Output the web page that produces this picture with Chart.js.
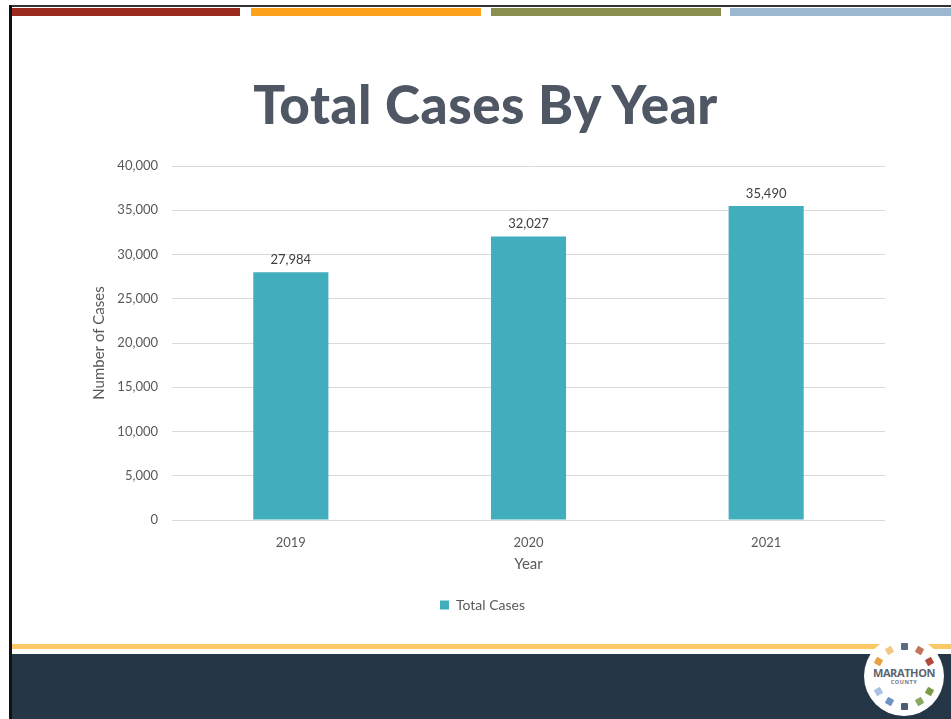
<!DOCTYPE html>
<html>
<head>
<meta charset="utf-8">
<script src="https://cdn.jsdelivr.net/npm/chart.js@4"></script>
<style>
  html, body { margin:0; padding:0; background:#fff; }
  body { width:951px; height:719px; position:relative; overflow:hidden; font-family: Lato, "Open Sans", sans-serif; }
  .abs { position:absolute; }
  #title { position:absolute; left:0; width:971px; top:72px; text-align:center; font-family: Lato, sans-serif; font-weight:900; font-size:53px; color:#4F5664; letter-spacing:0.5px; }
  #chartWrap { position:absolute; left:0; top:140px; width:951px; height:490px; }
  .logo { position:absolute; left:864px; top:636px; width:80px; height:80px; border-radius:50%; background:#fff; }
  .sq { position:absolute; width:7px; height:7px; border-radius:1px; }
  .logoText { position:absolute; left:0; width:80px; top:31px; text-align:center; font-family: "Open Sans", sans-serif; font-weight:700; font-size:11px; color:#5d6470; letter-spacing:-0.4px; line-height:11px; }
  .logoText2 { position:absolute; left:0; width:80px; top:43px; text-align:center; font-family: "Open Sans", sans-serif; font-weight:700; font-size:5.5px; color:#6d7480; letter-spacing:0.6px; line-height:6px; }
</style>
</head>
<body>
<div class="abs" style="left:9px; top:5px; width:942px; height:2px; background:#333;"></div>
<div class="abs" style="left:9px; top:5px; width:3px; height:714px; background:#111;"></div>
<div class="abs" style="left:12px; top:8px; width:228px; height:8px; background:#9A2B1E;"></div>
<div class="abs" style="left:251px; top:8px; width:230px; height:8px; background:#FCA31B;"></div>
<div class="abs" style="left:491px; top:8px; width:230px; height:8px; background:#8A8E4E;"></div>
<div class="abs" style="left:730px; top:8px; width:221px; height:8px; background:#9CB7D0;"></div>
<div id="title">Total Cases By Year</div>
<div id="chartWrap"><canvas id="c"></canvas></div>
<div class="abs" style="left:12px; top:644px; width:939px; height:5px; background:#FDC868;"></div>
<div class="abs" style="left:12px; top:654px; width:939px; height:65px; background:#253646;"></div>
<div class="logo" id="logo">
  <div class="logoText">MARATHON</div>
  <div class="logoText2">COUNTY</div>
</div>
<script>
// ---- data ----
const categories = ['2019', '2020', '2021'];
const totalCases = [27984, 32027, 35490];
const yTicks = [0, 5000, 10000, 15000, 20000, 25000, 30000, 35000, 40000];
const seriesName = 'Total Cases';
const xAxisTitle = 'Year';
const yAxisTitle = 'Number of Cases';

// logo squares (clock positions 0..11; 3 and 9 left empty for the text)
const logoColors = ['#5b6b82','#c4735c','#b5483c',null,'#7d9c4a','#8aa860','#4c5c72','#6f93c6','#a9c1e2',null,'#e6a23e','#f1c987'];
(function(){
  const logo = document.getElementById('logo');
  for (let i=0;i<logoColors.length;i++){
    if (!logoColors[i]) continue;
    const a = -Math.PI/2 + i*2*Math.PI/logoColors.length;
    const d = document.createElement('div');
    d.className='sq';
    d.style.background = logoColors[i];
    d.style.left = (40 + 30*Math.cos(a) - 3.5)+'px';
    d.style.top = (40 + 30*Math.sin(a) - 3.5)+'px';
    d.style.transform = 'rotate('+(a*180/Math.PI+90)+'deg)';
    logo.appendChild(d);
  }
})();

const labelPlugin = {
  id: 'barLabels',
  afterDatasetsDraw(chart) {
    const ctx = chart.ctx;
    ctx.save();
    ctx.font = '13px Lato, sans-serif';
    ctx.fillStyle = '#404040';
    ctx.textAlign = 'center';
    ctx.textBaseline = 'bottom';
    chart.getDatasetMeta(0).data.forEach((bar, i) => {
      ctx.fillText(totalCases[i].toLocaleString('en-US'), bar.x, bar.y - 6);
    });
    ctx.restore();
  }
};

new Chart(document.getElementById('c'), {
  type: 'bar',
  data: {
    labels: categories,
    datasets: [{
      label: seriesName,
      data: totalCases,
      backgroundColor: '#40AEBD',
      borderWidth: 0,
      categoryPercentage: 1.0,
      barPercentage: 0.316
    }]
  },
  options: {
    responsive: true,
    maintainAspectRatio: false,
    animation: false,
    layout: { padding: { left: 80, right: 66, top: 26, bottom: 8 } },
    plugins: {
      legend: {
        position: 'bottom',
        labels: { boxWidth: 9, boxHeight: 9, padding: 10, color: '#595959', font: { family: 'Lato', size: 14 } }
      },
      tooltip: { enabled: false }
    },
    scales: {
      x: {
        grid: { display: false },
        border: { display: false },
        ticks: { color: '#595959', font: { family: 'Lato', size: 13 }, padding: 7 },
        title: { display: true, text: xAxisTitle, color: '#595959', font: { family: 'Lato', size: 15 }, padding: { top: 4, bottom: 15 } },
        afterFit(scale) { scale.height = 68; }
      },
      y: {
        min: 0, max: 40000,
        afterBuildTicks(scale) { scale.ticks = yTicks.map(v => ({ value: v })); },
        grid: { color: '#D9D9D9', lineWidth: 1, drawTicks: false },
        border: { display: false },
        ticks: { color: '#595959', font: { family: 'Lato', size: 13 }, padding: 14, callback: v => v.toLocaleString('en-US') },
        title: { display: true, text: yAxisTitle, color: '#595959', font: { family: 'Lato', size: 15 }, padding: { top: 10, bottom: 0 } },
        afterFit(scale) { scale.width = 92; }
      }
    }
  },
  plugins: [labelPlugin]
});
</script>
</body>
</html>
